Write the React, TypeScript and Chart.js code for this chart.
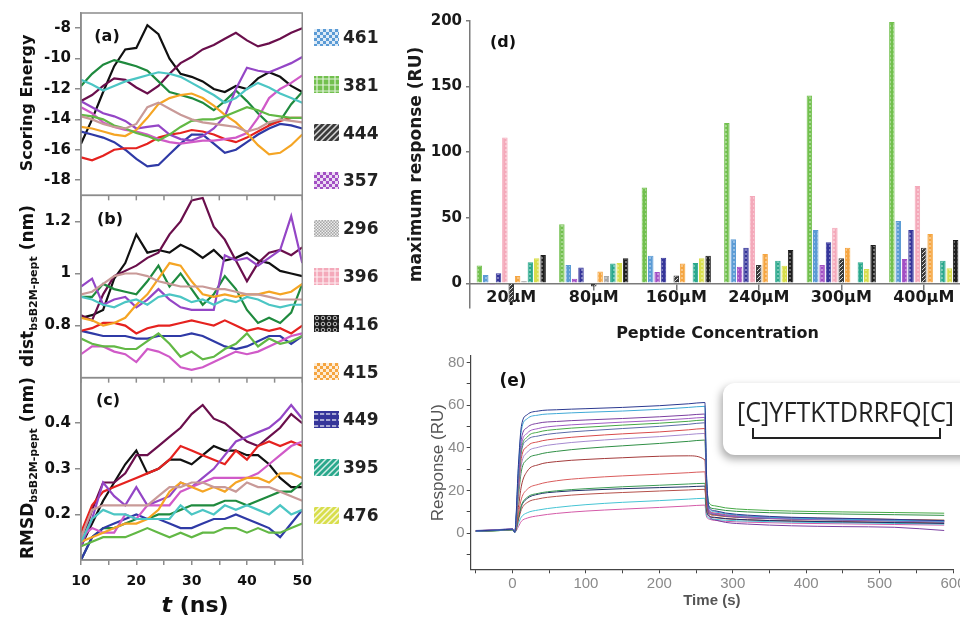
import React, { useEffect, useRef } from 'react';
import { Chart, registerables } from 'chart.js';
Chart.register(...registerables);

// ---------------- (a)-(c) MD trajectories ----------------
const timeNs = [10, 12, 14, 16, 18, 20, 22, 24, 26, 28, 30, 32, 34, 36, 38, 40, 42, 44, 46, 48, 50];

const scoreBlack = [-15.6, -14.0, -12.2, -10.5, -9.4, -9.3, -7.8, -8.4, -10.0, -11.0, -11.2, -11.5, -12.0, -12.2, -11.8, -12.0, -11.3, -10.9, -11.2, -11.8, -12.2];
const scoreMaroon = [-12.8, -12.4, -11.8, -11.3, -11.4, -11.9, -12.3, -11.8, -11.0, -10.3, -9.9, -9.4, -9.1, -8.7, -8.3, -8.8, -9.2, -9.0, -8.7, -8.3, -8.0];
const scoreDkGreen = [-11.8, -11.0, -10.4, -10.1, -10.3, -10.5, -10.8, -11.5, -12.2, -12.4, -12.6, -12.9, -13.4, -12.8, -12.1, -12.8, -13.6, -14.3, -14.1, -13.0, -12.2];
const scoreCyan = [-11.4, -11.7, -12.1, -11.8, -11.5, -11.3, -11.1, -10.9, -11.0, -11.2, -11.6, -12.0, -12.4, -12.9, -12.6, -12.0, -11.6, -11.9, -12.3, -12.6, -12.9];
const scoreOrange = [-14.5, -14.6, -14.8, -15.0, -15.1, -14.7, -13.9, -13.0, -12.6, -12.4, -12.3, -12.6, -13.1, -13.7, -14.2, -14.9, -15.7, -16.3, -16.2, -15.7, -15.0];
const scoreRosy = [-13.8, -14.0, -14.3, -14.5, -14.6, -14.3, -13.2, -12.9, -13.3, -13.7, -14.0, -14.2, -14.3, -14.4, -14.5, -14.8, -14.6, -14.2, -14.0, -14.1, -14.2];
const scoreLtGreen = [-13.7, -13.8, -14.0, -14.4, -14.6, -14.9, -15.1, -15.4, -15.0, -14.5, -14.1, -14.0, -14.0, -13.8, -13.5, -13.2, -13.4, -13.7, -13.8, -13.9, -13.9];
const scorePurple = [-12.8, -13.2, -13.6, -13.8, -14.1, -14.6, -14.5, -14.4, -15.0, -15.3, -15.4, -15.1, -14.6, -13.8, -12.0, -10.6, -10.8, -10.9, -10.6, -10.3, -9.9];
const scoreMagenta = [-13.2, -13.6, -14.2, -14.5, -14.7, -14.8, -15.0, -15.3, -15.5, -15.6, -15.5, -15.4, -15.4, -15.3, -15.2, -14.9, -13.9, -12.6, -12.0, -11.6, -11.1];
const scoreRed = [-16.5, -16.7, -16.4, -16.0, -15.9, -15.9, -15.6, -15.2, -15.0, -14.9, -14.7, -14.8, -15.0, -15.3, -15.5, -15.2, -14.8, -14.4, -14.1, -13.9, -13.9];
const scoreBlue = [-14.8, -15.0, -15.2, -15.5, -16.0, -16.6, -17.1, -17.0, -16.3, -15.6, -15.0, -15.0, -15.6, -16.2, -16.0, -15.5, -15.0, -14.6, -14.3, -14.4, -14.6];

const distMaroon = [0.84, 0.82, 0.92, 0.99, 1.01, 1.03, 1.06, 1.08, 1.15, 1.20, 1.28, 1.29, 1.18, 1.13, 1.05, 0.97, 1.04, 1.08, 1.09, 1.07, 1.10];
const distBlack = [0.83, 0.84, 0.86, 0.98, 1.04, 1.15, 1.08, 1.09, 1.08, 1.11, 1.09, 1.06, 1.09, 1.05, 1.06, 1.08, 1.05, 1.04, 1.01, 1.00, 0.99];
const distPurple = [0.95, 0.98, 0.88, 0.90, 0.91, 0.87, 0.90, 0.94, 0.90, 0.87, 0.86, 0.86, 0.86, 1.07, 1.05, 1.06, 1.03, 1.06, 1.09, 1.22, 1.04];
const distRosy = [0.92, 0.93, 0.96, 0.99, 1.00, 1.00, 0.99, 0.97, 0.96, 0.95, 0.95, 0.95, 0.94, 0.94, 0.93, 0.92, 0.92, 0.91, 0.90, 0.90, 0.90];
const distDkGreen = [0.91, 0.91, 0.96, 0.94, 0.93, 0.92, 0.97, 1.03, 0.95, 1.00, 0.94, 0.88, 0.92, 0.99, 0.94, 0.86, 0.81, 0.83, 0.81, 0.85, 0.96];
const distOrange = [0.83, 0.82, 0.80, 0.81, 0.83, 0.88, 0.92, 0.98, 1.04, 1.03, 0.97, 0.92, 0.91, 0.92, 0.91, 0.92, 0.92, 0.93, 0.92, 0.93, 0.96];
const distCyan = [0.91, 0.90, 0.88, 0.87, 0.89, 0.90, 0.88, 0.91, 0.92, 0.91, 0.89, 0.90, 0.88, 0.90, 0.89, 0.91, 0.90, 0.88, 0.87, 0.88, 0.88];
const distRed = [0.78, 0.79, 0.81, 0.81, 0.80, 0.77, 0.79, 0.80, 0.80, 0.81, 0.82, 0.81, 0.80, 0.82, 0.80, 0.78, 0.79, 0.78, 0.79, 0.77, 0.80];
const distBlue = [0.78, 0.77, 0.76, 0.76, 0.76, 0.75, 0.75, 0.76, 0.76, 0.76, 0.77, 0.76, 0.74, 0.72, 0.71, 0.72, 0.74, 0.76, 0.76, 0.73, 0.76];
const distLtGreen = [0.75, 0.73, 0.72, 0.72, 0.71, 0.71, 0.74, 0.77, 0.73, 0.68, 0.70, 0.67, 0.68, 0.71, 0.73, 0.77, 0.72, 0.75, 0.73, 0.74, 0.76];
const distMagenta = [0.69, 0.72, 0.72, 0.70, 0.69, 0.66, 0.71, 0.70, 0.68, 0.64, 0.63, 0.64, 0.66, 0.68, 0.70, 0.69, 0.70, 0.72, 0.74, 0.76, 0.77];

const rmsdMaroon = [0.13, 0.21, 0.27, 0.27, 0.29, 0.33, 0.33, 0.35, 0.37, 0.39, 0.42, 0.44, 0.41, 0.40, 0.38, 0.36, 0.35, 0.37, 0.39, 0.42, 0.40];
const rmsdBlack = [0.13, 0.18, 0.23, 0.27, 0.31, 0.34, 0.29, 0.30, 0.32, 0.32, 0.31, 0.33, 0.35, 0.34, 0.34, 0.33, 0.33, 0.31, 0.28, 0.26, 0.26];
const rmsdRed = [0.16, 0.22, 0.25, 0.26, 0.27, 0.28, 0.29, 0.30, 0.32, 0.35, 0.34, 0.33, 0.32, 0.31, 0.34, 0.32, 0.35, 0.36, 0.35, 0.36, 0.35];
const rmsdPurple = [0.13, 0.19, 0.27, 0.24, 0.22, 0.26, 0.22, 0.23, 0.24, 0.27, 0.26, 0.28, 0.30, 0.33, 0.36, 0.37, 0.38, 0.39, 0.41, 0.44, 0.41];
const rmsdMagenta = [0.15, 0.17, 0.16, 0.16, 0.20, 0.19, 0.22, 0.22, 0.22, 0.25, 0.26, 0.27, 0.28, 0.28, 0.28, 0.28, 0.29, 0.31, 0.33, 0.35, 0.36];
const rmsdRosy = [0.15, 0.21, 0.22, 0.22, 0.22, 0.22, 0.22, 0.24, 0.26, 0.26, 0.27, 0.27, 0.26, 0.26, 0.25, 0.27, 0.26, 0.26, 0.25, 0.24, 0.23];
const rmsdOrange = [0.14, 0.15, 0.16, 0.17, 0.18, 0.18, 0.19, 0.21, 0.25, 0.27, 0.26, 0.25, 0.26, 0.25, 0.27, 0.28, 0.28, 0.27, 0.29, 0.29, 0.28];
const rmsdDkGreen = [0.10, 0.15, 0.17, 0.17, 0.18, 0.19, 0.19, 0.20, 0.20, 0.21, 0.22, 0.22, 0.22, 0.23, 0.23, 0.22, 0.23, 0.24, 0.25, 0.25, 0.27];
const rmsdCyan = [0.14, 0.19, 0.21, 0.20, 0.20, 0.19, 0.19, 0.19, 0.19, 0.22, 0.20, 0.21, 0.20, 0.22, 0.21, 0.22, 0.21, 0.20, 0.22, 0.20, 0.21];
const rmsdBlue = [0.10, 0.15, 0.17, 0.18, 0.19, 0.20, 0.19, 0.19, 0.18, 0.17, 0.17, 0.18, 0.19, 0.19, 0.20, 0.19, 0.18, 0.17, 0.15, 0.18, 0.21];
const rmsdLtGreen = [0.13, 0.14, 0.15, 0.15, 0.15, 0.16, 0.17, 0.16, 0.15, 0.16, 0.15, 0.16, 0.16, 0.17, 0.17, 0.16, 0.17, 0.16, 0.16, 0.17, 0.18];

const scoreTicks = [-18, -16, -14, -12, -10, -8];
const distTicks = [0.8, 1, 1.2];
const rmsdTicks = [0.2, 0.3, 0.4];
const timeTicks = [10, 15, 20, 25, 30, 35, 40, 45, 50];
const timeTickLabels = [10, 20, 30, 40, 50];

// ---------------- (d) bar chart ----------------
const concentrations = ['20µM', '80µM', '160µM', '240µM', '300µM', '400µM'];
const legendOrder = ['461', '381', '444', '357', '296', '396', '416', '415', '449', '395', '476'];
const barOrder = ['381', '461', '357', '449', '396', '444', '415', '296', '395', '476', '416'];
const resp381 = [13.5, 45, 73, 122, 143, 199];
const resp461 = [6.3, 14, 21, 33.5, 40.6, 47.4];
const resp357 = [-1, 3.5, 8.5, 12.6, 14, 18.5];
const resp449 = [7.6, 12, 19.5, 27, 31.2, 40.6];
const resp396 = [111, null, null, 66.5, 42.3, 74];
const resp444 = [-14.5, -2.5, 6, 14, 19, 27];
const resp415 = [5.5, 9, 15, 22.3, 27, 37.5];
const resp296 = [1.7, 5.5, null, null, null, null];
const resp395 = [16, 15, 15.5, 17.2, 16, 17.2];
const resp476 = [19, 15.5, 19, 13.4, 10.9, 11.4];
const resp416 = [21.5, 19, 21, 25.4, 29.2, 33];
const barTicks = [0, 50, 100, 150, 200];

// ---------------- (e) SPR sensorgram ----------------
const sprTime = [-50, -20, 0, 3, 8, 12, 20, 35, 60, 100, 150, 200, 240, 262, 264, 268, 275, 290, 320, 380, 450, 520, 588];
const sprA = [1.0, 1.4, 1.8, 0.4, 32, 50, 55.5, 57.2, 57.8, 58.3, 58.9, 59.7, 60.6, 61.2, 30, 12, 10.5, 9.4, 8.4, 7.4, 6.9, 6.4, 5.8];
const sprB = [0.9, 1.3, 1.7, 0.3, 30, 48, 53.6, 55.3, 56.0, 56.6, 57.2, 58.0, 58.9, 59.4, 29, 11.5, 10.0, 9.0, 8.0, 7.0, 6.5, 6.0, 5.5];
const sprC = [0.8, 1.2, 1.6, 0.2, 27, 44, 49.5, 51.5, 52.3, 53.0, 53.7, 54.5, 55.3, 55.8, 25, 8.0, 6.2, 5.0, 4.2, 3.4, 3.0, 2.7, 1.2];
const sprD = [1.1, 1.5, 1.9, 0.5, 25, 41, 46.8, 49.0, 50.2, 51.1, 52.0, 52.8, 53.7, 54.2, 26, 10.5, 9.2, 8.3, 7.5, 6.7, 6.2, 5.8, 5.3];
const sprE = [0.7, 1.1, 1.5, 0.2, 24, 39, 45.0, 47.3, 48.6, 49.6, 50.6, 51.5, 52.4, 53.0, 27, 14.0, 12.8, 11.8, 11.0, 10.3, 9.9, 9.6, 9.3];
const sprF = [1.2, 1.6, 2.0, 0.6, 23, 38, 43.6, 45.5, 46.8, 47.9, 49.0, 50.0, 51.0, 51.7, 25, 10.0, 8.8, 8.0, 7.2, 6.5, 6.0, 5.6, 5.1];
const sprG = [0.9, 1.3, 1.7, 0.4, 21, 35, 40.6, 42.8, 44.2, 45.4, 46.5, 47.4, 48.4, 49.0, 24, 10.5, 9.4, 8.6, 7.9, 7.2, 6.8, 6.4, 6.0];
const sprH = [1.0, 1.4, 1.8, 0.3, 19, 32, 37.8, 40.2, 41.7, 43.0, 44.2, 45.2, 46.2, 46.7, 23, 10.0, 9.0, 8.2, 7.5, 6.8, 6.4, 6.0, 5.6];
const sprI = [0.8, 1.2, 1.6, 0.3, 17, 29, 34.5, 36.8, 38.3, 39.7, 40.9, 42.0, 43.0, 43.6, 22, 12.5, 11.4, 10.6, 9.9, 9.3, 8.9, 8.6, 8.3];
const sprJ = [1.1, 1.4, 1.8, 0.5, 12, 22, 29.0, 32.0, 33.5, 34.5, 35.3, 36.0, 36.2, 34.3, 17, 9.5, 8.7, 8.0, 7.3, 6.7, 6.3, 6.0, 5.7];
const sprK = [0.9, 1.2, 1.6, 0.4, 9, 16, 20.5, 22.8, 24.5, 25.8, 26.8, 27.6, 28.3, 28.7, 15, 9.0, 8.3, 7.7, 7.1, 6.5, 6.1, 5.8, 5.5];
const sprL = [0.8, 1.1, 1.5, 0.3, 7.5, 13, 16.8, 18.6, 19.8, 20.8, 21.7, 22.4, 23.0, 23.3, 13, 9.0, 8.4, 7.9, 7.4, 6.9, 6.6, 6.3, 6.0];
const sprM = [1.0, 1.3, 1.7, 0.4, 7, 12.5, 16.2, 18.2, 19.3, 20.1, 20.8, 21.3, 21.7, 22.0, 12, 8.0, 7.4, 6.8, 6.2, 5.6, 5.2, 4.9, 4.5];
const sprN = [1.1, 1.4, 1.8, 0.5, 6, 11, 14.3, 16.0, 17.2, 18.2, 19.0, 19.7, 20.2, 20.5, 11, 7.8, 7.2, 6.7, 6.2, 5.7, 5.4, 5.1, 4.8];
const sprO = [0.9, 1.2, 1.6, 0.3, 4.5, 7.5, 9.5, 10.8, 12.0, 13.3, 14.4, 15.2, 15.9, 16.3, 9, 7.0, 6.5, 6.0, 5.6, 5.1, 4.8, 4.5, 4.2];
const sprP = [1.0, 1.3, 1.7, 0.4, 3, 5.5, 7.0, 8.1, 9.2, 10.3, 11.2, 12.0, 12.7, 13.1, 8, 6.5, 6.0, 5.5, 5.1, 4.6, 4.3, 4.0, 3.7];
const sprCurves = [sprA, sprB, sprC, sprD, sprE, sprF, sprG, sprH, sprI, sprJ, sprK, sprL, sprM, sprN, sprO, sprP];
const sprXTicks = [-50, 0, 50, 100, 150, 200, 250, 300, 350, 400, 450, 500, 550, 600];
const sprXLabels = [0, 100, 200, 300, 400, 500, 600];
const sprYTicks = [-10, 0, 10, 20, 30, 40, 50, 60, 70, 80];
const sprYLabels = [0, 20, 40, 60, 80];
const peptideSequence = '[C]YFTKTDRRFQ[C]';

// ---------------- styles ----------------
const lineColors: Record<string, string> = {
  black: '#111111', maroon: '#6a0f4c', dkgreen: '#1f8a3e', ltgreen: '#62b845', cyan: '#4cc6c4',
  orange: '#f5a524', rosy: '#c99a98', purple: '#9446c6', magenta: '#d05ac8', red: '#e5221f', blue: '#2f3aa6',
};
const sprColors = ['#2b3990', '#3fa9d6', '#7b3fa0', '#a15cc4', '#45a845', '#5a6aa8', '#d84a4a', '#a58ad0',
  '#2f8f45', '#a33a3a', '#d95c5c', '#3c9c55', '#1f2f66', '#b5504a', '#45c4d4', '#d45aa8'];
const peptideColor: Record<string, string> = {
  '461': '#5b9bd5', '381': '#72c04e', '444': '#3a3a3a', '357': '#a24fc4', '296': '#a6a6a6', '396': '#f4a9ba',
  '416': '#1e1e1e', '415': '#f5a540', '449': '#35359a', '395': '#2aa88c', '476': '#d8de4c',
};
const legendKind: Record<string, string> = {
  '461': 'check', '381': 'grid', '444': 'hatch', '357': 'check', '296': 'check', '396': 'grid',
  '416': 'ring', '415': 'check', '449': 'hdash', '395': 'hatch', '476': 'hatch',
};
const axisGray = '#8c8c8c';
const bold = (size: number) => ({ family: 'DejaVu Sans', size, weight: 'bold' as const });

function makePattern(color: string, kind: string, s: number) {
  const c = document.createElement('canvas');
  c.width = s; c.height = s;
  const g = c.getContext('2d')!;
  g.fillStyle = color; g.fillRect(0, 0, s, s);
  g.fillStyle = 'rgba(255,255,255,0.8)';
  g.strokeStyle = 'rgba(255,255,255,0.8)';
  if (kind === 'dots') {
    g.beginPath(); g.arc(s / 2, s / 2, s * 0.2, 0, Math.PI * 2); g.fill();
  } else if (kind === 'check') {
    g.fillRect(0, 0, s / 2, s / 2); g.fillRect(s / 2, s / 2, s / 2, s / 2);
  } else if (kind === 'grid') {
    g.lineWidth = Math.max(1, s * 0.2);
    g.beginPath(); g.moveTo(s / 2, 0); g.lineTo(s / 2, s); g.moveTo(0, s / 2); g.lineTo(s, s / 2); g.stroke();
  } else if (kind === 'hatch') {
    g.lineWidth = s * 0.25;
    g.beginPath();
    g.moveTo(0, s); g.lineTo(s, 0);
    g.moveTo(-s / 2, s / 2); g.lineTo(s / 2, -s / 2);
    g.moveTo(s / 2, 1.5 * s); g.lineTo(1.5 * s, s / 2);
    g.stroke();
  } else if (kind === 'hdash') {
    g.fillRect(0, s / 2 - s * 0.12, s * 0.7, s * 0.24);
  } else if (kind === 'ring') {
    g.lineWidth = s * 0.15;
    g.beginPath(); g.arc(s / 2, s / 2, s * 0.3, 0, Math.PI * 2); g.stroke();
  }
  return g.createPattern(c, 'repeat')!;
}

// replace the generated ticks by an explicit list
const useTicks = (vals: number[]) => (s: any) => {
  s.ticks = vals.map((v) => ({ value: v }));
};

const leftFrame = {
  id: 'leftFrame',
  afterDraw(chart: any) {
    const { ctx, chartArea: ca, scales } = chart;
    ctx.save();
    ctx.strokeStyle = axisGray;
    ctx.lineWidth = 1.5;
    ['ya', 'yb', 'yc'].forEach((id) => {
      const s = scales[id];
      ctx.strokeRect(ca.left, s.top, ca.right - ca.left, s.bottom - s.top);
    });
    const x = scales.x;
    ['ya', 'yb'].forEach((id) => {
      const s = scales[id];
      x.ticks.forEach((t: any) => {
        const px = x.getPixelForValue(t.value);
        ctx.beginPath(); ctx.moveTo(px, s.bottom); ctx.lineTo(px, s.bottom + 5); ctx.stroke();
      });
    });
    ctx.restore();
  },
};

function panelY(min: number, max: number, ticks: number[]) {
  return {
    type: 'linear', position: 'left', stack: 'md', stackWeight: 1, min, max, offset: false,
    afterBuildTicks: useTicks(ticks),
    afterFit: (s: any) => { s.width = 81; },
    ticks: { font: bold(15), color: '#111', padding: 4, autoSkip: false, callback: (v: any) => String(v) },
    grid: { drawOnChartArea: false, tickLength: 6, color: axisGray, lineWidth: 1.5 },
    border: { display: true, color: axisGray, width: 1.5 },
  };
}

function lineDs(arr: number[], color: string, axis: string) {
  return {
    data: timeNs.map((t, i) => ({ x: t, y: arr[i] })), yAxisID: axis, xAxisID: 'x',
    borderColor: lineColors[color], borderWidth: 2.2, pointRadius: 0, fill: false, tension: 0,
  };
}

export default function App() {
  const leftRef = useRef<HTMLCanvasElement>(null);
  const barRef = useRef<HTMLCanvasElement>(null);
  const sprRef = useRef<HTMLCanvasElement>(null);
  const swatchRefs = useRef<(HTMLCanvasElement | null)[]>([]);

  useEffect(() => {
    const charts: Chart[] = [];

    const leftDatasets = [
      lineDs(scoreRosy, 'rosy', 'ya'), lineDs(scoreLtGreen, 'ltgreen', 'ya'), lineDs(scoreCyan, 'cyan', 'ya'),
      lineDs(scoreOrange, 'orange', 'ya'), lineDs(scoreMagenta, 'magenta', 'ya'), lineDs(scorePurple, 'purple', 'ya'),
      lineDs(scoreRed, 'red', 'ya'), lineDs(scoreBlue, 'blue', 'ya'), lineDs(scoreDkGreen, 'dkgreen', 'ya'),
      lineDs(scoreMaroon, 'maroon', 'ya'), lineDs(scoreBlack, 'black', 'ya'),
      lineDs(distRosy, 'rosy', 'yb'), lineDs(distLtGreen, 'ltgreen', 'yb'), lineDs(distCyan, 'cyan', 'yb'),
      lineDs(distOrange, 'orange', 'yb'), lineDs(distMagenta, 'magenta', 'yb'), lineDs(distPurple, 'purple', 'yb'),
      lineDs(distRed, 'red', 'yb'), lineDs(distBlue, 'blue', 'yb'), lineDs(distDkGreen, 'dkgreen', 'yb'),
      lineDs(distMaroon, 'maroon', 'yb'), lineDs(distBlack, 'black', 'yb'),
      lineDs(rmsdRosy, 'rosy', 'yc'), lineDs(rmsdLtGreen, 'ltgreen', 'yc'), lineDs(rmsdCyan, 'cyan', 'yc'),
      lineDs(rmsdOrange, 'orange', 'yc'), lineDs(rmsdMagenta, 'magenta', 'yc'), lineDs(rmsdPurple, 'purple', 'yc'),
      lineDs(rmsdRed, 'red', 'yc'), lineDs(rmsdBlue, 'blue', 'yc'), lineDs(rmsdDkGreen, 'dkgreen', 'yc'),
      lineDs(rmsdMaroon, 'maroon', 'yc'), lineDs(rmsdBlack, 'black', 'yc'),
    ];

    charts.push(new Chart(leftRef.current!, {
      type: 'line',
      data: { datasets: leftDatasets as any },
      plugins: [leftFrame],
      options: {
        responsive: false, animation: false,
        layout: { padding: { top: 13, right: 17, left: 0, bottom: 0 } },
        plugins: { legend: { display: false }, tooltip: { enabled: false } },
        scales: {
          x: {
            type: 'linear', position: 'bottom', min: 10, max: 50,
            afterBuildTicks: useTicks(timeTicks),
            afterFit: (s: any) => { s.height = 59; },
            ticks: {
              font: bold(14), color: '#111', padding: 8, maxRotation: 0, autoSkip: false,
              callback: (v: any) => (timeTickLabels.includes(Number(v)) ? String(v) : ''),
            },
            grid: { drawOnChartArea: false, tickLength: 5, color: axisGray, lineWidth: 1.5 },
            border: { color: axisGray, width: 1.5 },
          },
          yc: panelY(0.1, 0.5, rmsdTicks),
          yb: panelY(0.6, 1.3, distTicks),
          ya: panelY(-19, -7, scoreTicks),
        } as any,
      },
    } as any));

    const responseById: Record<string, (number | null)[]> = {
      '381': resp381, '461': resp461, '357': resp357, '449': resp449, '396': resp396, '444': resp444,
      '415': resp415, '296': resp296, '395': resp395, '476': resp476, '416': resp416,
    };

    charts.push(new Chart(barRef.current!, {
      type: 'bar',
      data: {
        labels: concentrations,
        datasets: barOrder.map((id) => ({
          label: id, data: responseById[id],
          backgroundColor: makePattern(peptideColor[id], id === '444' ? 'hatch' : 'dots', 4),
          borderColor: peptideColor[id], borderWidth: 1,
          categoryPercentage: 0.85, barPercentage: 0.86,
        })),
      },
      options: {
        responsive: false, animation: false,
        layout: { padding: { top: 20.7, right: 15, left: 0, bottom: 61.8 } },
        plugins: { legend: { display: false }, tooltip: { enabled: false } },
        scales: {
          x: {
            type: 'category', position: { y: 0 }, offset: true,
            afterFit: (s: any) => { s.height = 61.8; },
            grid: { offset: false, drawOnChartArea: false, tickLength: 6, color: '#7a7a7a', lineWidth: 1.5 },
            border: { color: '#7a7a7a', width: 1.5 },
            ticks: { font: bold(16), color: '#1a1a1a', padding: -1, maxRotation: 0, autoSkip: false },
            title: { display: true, text: 'Peptide Concentration', font: bold(16), color: '#1a1a1a', padding: { top: 4, bottom: 1.5 } },
          },
          y: {
            type: 'linear', min: -19, max: 200,
            afterBuildTicks: useTicks(barTicks),
            afterFit: (s: any) => { s.width = 70; },
            ticks: { font: bold(15), color: '#1a1a1a', padding: 4, autoSkip: false },
            grid: { drawOnChartArea: false, tickLength: 4, color: '#7a7a7a', lineWidth: 1.5 },
            border: { color: '#7a7a7a', width: 1.5 },
            title: { display: true, text: 'maximum response (RU)', font: bold(17), color: '#1a1a1a', padding: { top: 6 } },
          },
        } as any,
      },
    } as any));

    charts.push(new Chart(sprRef.current!, {
      type: 'line',
      data: {
        datasets: sprCurves.map((c, i) => ({
          data: sprTime.map((t, j) => ({ x: t, y: c[j] })),
          borderColor: sprColors[i], borderWidth: 1, pointRadius: 0, fill: false,
          cubicInterpolationMode: 'monotone',
        })),
      },
      options: {
        responsive: false, animation: false,
        layout: { padding: { top: 16, right: 27, left: 0, bottom: 0 } },
        plugins: { legend: { display: false }, tooltip: { enabled: false } },
        scales: {
          x: {
            type: 'linear', min: -57, max: 600,
            afterBuildTicks: useTicks(sprXTicks),
            afterFit: (s: any) => { s.height = 49.7; },
            ticks: {
              font: { family: 'Liberation Sans', size: 15 }, color: '#8a8a8a', padding: 2,
              maxRotation: 0, autoSkip: false,
              callback: (v: any) => (sprXLabels.includes(Number(v)) ? String(v) : ''),
            },
            grid: { drawOnChartArea: false, tickLength: 4, color: '#444' },
            border: { color: '#444', width: 1.2 },
            title: { display: true, text: 'Time (s)', font: { family: 'Liberation Sans', size: 15, weight: 'bold' }, color: '#555', padding: { top: 0, bottom: 9 } },
          },
          y: {
            type: 'linear', min: -17, max: 83,
            afterBuildTicks: useTicks(sprYTicks),
            afterFit: (s: any) => { s.width = 70.7; },
            ticks: {
              font: { family: 'Liberation Sans', size: 15 }, color: '#8a8a8a', padding: 2, autoSkip: false,
              callback: (v: any) => (sprYLabels.includes(Number(v)) ? String(v) : ''),
            },
            grid: { drawOnChartArea: false, tickLength: 4, color: '#444' },
            border: { color: '#444', width: 1.2 },
            title: { display: true, text: 'Response (RU)', font: { family: 'Liberation Sans', size: 17 }, color: '#555', padding: { top: 28 } },
          },
        } as any,
      },
    } as any));

    legendOrder.forEach((id, i) => {
      const c = swatchRefs.current[i];
      if (!c) return;
      const g = c.getContext('2d')!;
      g.fillStyle = makePattern(peptideColor[id], legendKind[id], id === '296' ? 3 : 6);
      g.fillRect(0, 0, c.width, c.height);
    });

    return () => charts.forEach((c) => c.destroy());
  }, []);

  const abs = (left: number, top: number, extra: React.CSSProperties = {}): React.CSSProperties => ({
    position: 'absolute', left, top, ...extra,
  });
  const centered = (x: number, y: number, font: string, extra: React.CSSProperties = {}): React.CSSProperties => ({
    position: 'absolute', left: x, top: y, transform: 'translate(-50%, -50%)', font, color: '#111',
    whiteSpace: 'nowrap', ...extra,
  });
  const rotated = (x: number, y: number): React.CSSProperties => ({
    position: 'absolute', left: x, top: y, transform: 'translate(-50%, -50%) rotate(-90deg)',
    whiteSpace: 'nowrap', color: '#111', fontFamily: 'DejaVu Sans', fontWeight: 'bold', lineHeight: 1,
  });
  const subStyle: React.CSSProperties = { fontSize: 11, position: 'relative', top: 4, verticalAlign: 'baseline' };

  return (
    <div style={{ position: 'fixed', left: 0, top: 0, width: 960, height: 619, overflow: 'hidden', background: '#fff' }}>
      <canvas ref={leftRef} width={320} height={619} style={abs(0, 0, { width: 320, height: 619 })} />
      <canvas ref={barRef} width={580} height={370} style={abs(400, 0, { width: 580, height: 370 })} />
      <canvas ref={sprRef} width={580} height={279} style={abs(400, 340, { width: 580, height: 279 })} />

      <div style={centered(107, 35, 'bold 16px "DejaVu Sans"')}>(a)</div>
      <div style={centered(110, 218, 'bold 16px "DejaVu Sans"')}>(b)</div>
      <div style={centered(108, 399, 'bold 16px "DejaVu Sans"')}>(c)</div>
      <div style={centered(503, 41, 'bold 16px "DejaVu Sans"')}>(d)</div>
      <div style={centered(513, 380, 'bold 17px "DejaVu Sans"')}>(e)</div>

      <div style={{ ...rotated(27, 103), fontSize: 16 }}>Scoring Energy</div>
      <div style={{ ...rotated(27, 286), fontSize: 17 }}>dist<span style={subStyle}>bsB2M-pept</span> (nm)</div>
      <div style={{ ...rotated(27, 468), fontSize: 17 }}>RMSD<span style={subStyle}>bsB2M-pept</span> (nm)</div>
      <div style={centered(195, 604, 'bold 22px "DejaVu Sans"')}><span style={{ fontStyle: 'italic' }}>t</span> (ns)</div>

      {legendOrder.map((id, i) => {
        const cy = 37 + i * 47.8;
        return (
          <div key={id}>
            <canvas ref={(el) => { swatchRefs.current[i] = el; }} width={25} height={17} style={abs(314, cy - 8.5, { width: 25, height: 17 })} />
            <div style={{ position: 'absolute', left: 343, top: cy, transform: 'translateY(-50%)', font: 'bold 17px "DejaVu Sans"', color: '#222' }}>{id}</div>
          </div>
        );
      })}

      <div style={abs(723, 383, {
        width: 270, height: 72, background: '#fff', borderRadius: 12,
        boxShadow: '-2px 4px 9px rgba(0,0,0,0.35)',
      })} />
      <div style={abs(737, 395, {
        font: '28px "Open Sans"', color: '#222', lineHeight: '32px', transform: 'scaleX(0.9)',
        transformOrigin: 'left center', whiteSpace: 'nowrap',
      })}>{peptideSequence}</div>
      <div style={abs(752, 428, {
        width: 185, height: 9, borderLeft: '2px solid #222', borderRight: '2px solid #222', borderBottom: '2px solid #222',
      })} />
    </div>
  );
}
